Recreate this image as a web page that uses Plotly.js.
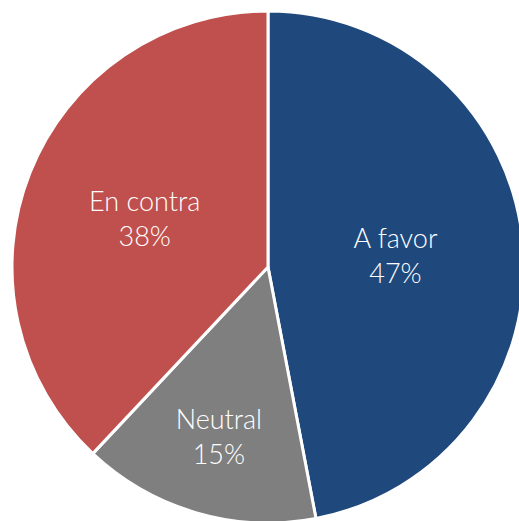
<!DOCTYPE html>
<html>
<head>
<meta charset="utf-8">
<script src="https://cdn.plot.ly/plotly-3.0.1.min.js"></script>
<style>
html,body{margin:0;padding:0;overflow:hidden;background:#fff;width:519px;height:521px;}
#chart{width:540px;height:540px;}
</style>
</head>
<body>
<div id="chart"></div>
<script>
const labels = ["A favor", "Neutral", "En contra"];
const values = [47, 15, 38];
const colors = ["#1F497D", "#7F7F7F", "#C0504D"];

const trace = {
  type: "pie",
  labels: labels,
  values: values,
  sort: false,
  direction: "clockwise",
  rotation: 0,
  marker: {colors: colors, line: {color: "#ffffff", width: 3}},
  textinfo: "label+percent",
  texttemplate: "%{label}<br>%{percent:.0%}",
  textposition: "inside",
  insidetextorientation: "horizontal",
  textfont: {family: "Lato, 'Open Sans', sans-serif", size: 27, color: "#ffffff", weight: 300},
  hoverinfo: "none"
};

const layout = {
  width: 540,
  height: 540,
  margin: {l: 12, r: 16, t: 11, b: 17},
  showlegend: false,
  paper_bgcolor: "#ffffff",
  plot_bgcolor: "#ffffff"
};

Plotly.newPlot("chart", [trace], layout, {displayModeBar: false, staticPlot: true});
</script>
</body>
</html>
